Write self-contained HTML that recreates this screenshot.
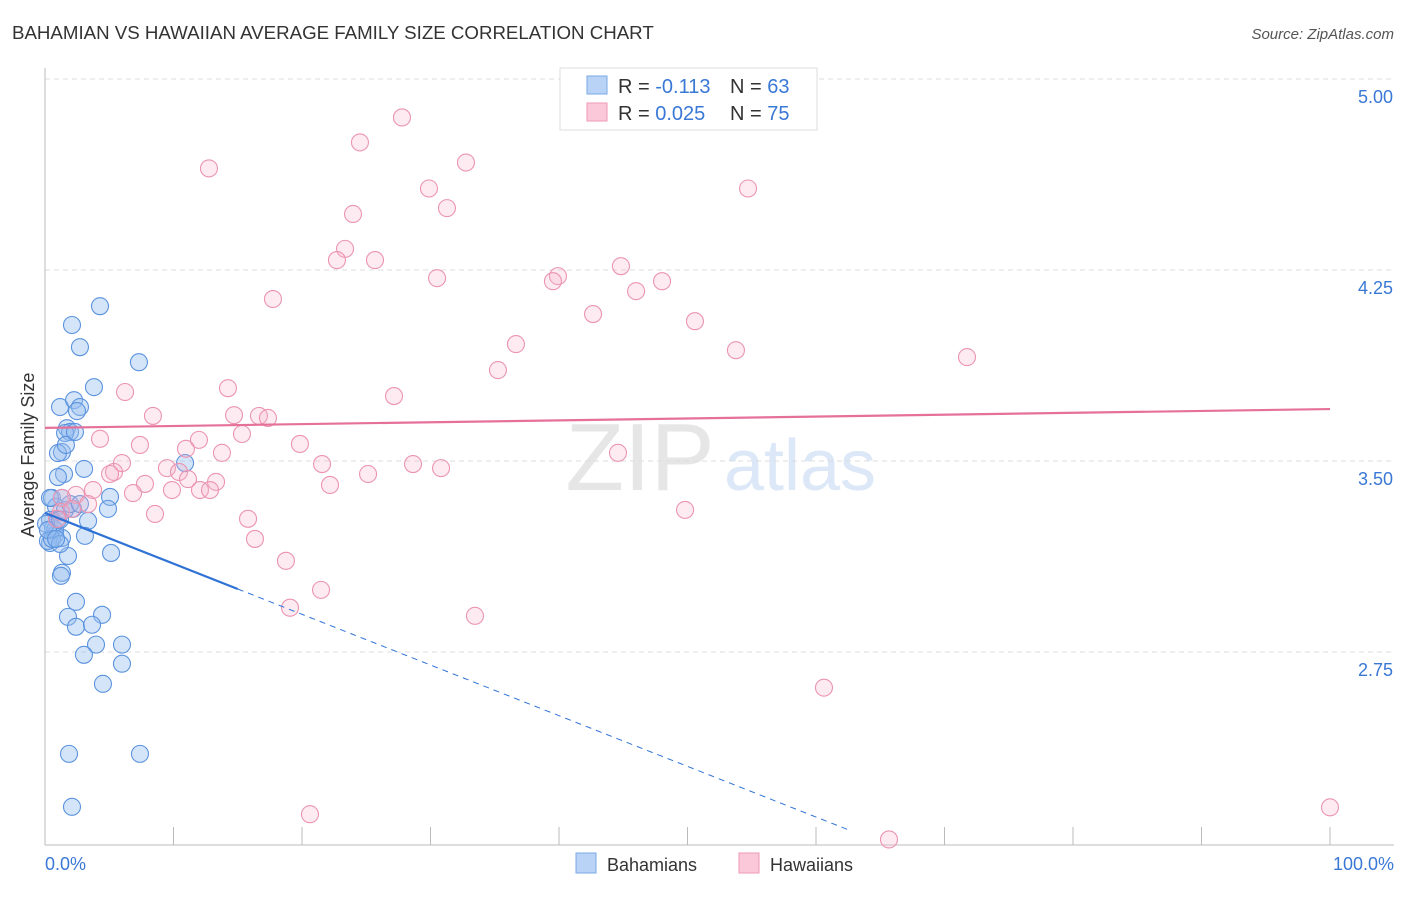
<!DOCTYPE html>
<html><head><meta charset="utf-8"><style>
body{margin:0;background:#fff;font-family:"Liberation Sans",sans-serif}
svg text{font-family:"Liberation Sans",sans-serif}
</style></head><body>
<svg id="c" width="1406" height="892" xmlns="http://www.w3.org/2000/svg">
<text x="12" y="39" font-size="18.7" fill="#333">BAHAMIAN VS HAWAIIAN AVERAGE FAMILY SIZE CORRELATION CHART</text>
<text x="1394" y="39" font-size="15" fill="#555" font-style="italic" text-anchor="end">Source: ZipAtlas.com</text>
<text x="640" y="490" font-size="96" fill="#e6e6e6" font-family="Liberation Serif" text-anchor="middle">ZIP</text>
<text x="800" y="490" font-size="72" fill="#dce8f7" text-anchor="middle">atlas</text>
<g id="grid"></g><g id="axes"></g><g id="marks"></g>
<text x="34" y="455" font-size="18" fill="#333" text-anchor="middle" transform="rotate(-90 34 455)">Average Family Size</text>
<text x="45" y="870" font-size="18" fill="#3a78d6">0.0%</text>
<text x="1394" y="870" font-size="18" fill="#3a78d6" text-anchor="end">100.0%</text>
<g>
<rect x="560" y="68" width="257" height="62" fill="#fff" stroke="#ddd"/>
<rect x="587" y="76" width="20" height="18" fill="#b8d3f5" stroke="#7aa8e6"/>
<rect x="587" y="103" width="20" height="18" fill="#fac8d8" stroke="#ee9ab6"/>
<text x="618" y="93" font-size="20" fill="#333">R = <tspan fill="#3a78d6">-0.113</tspan></text>
<text x="730" y="93" font-size="20" fill="#333">N = <tspan fill="#3a78d6">63</tspan></text>
<text x="618" y="120" font-size="20" fill="#333">R = <tspan fill="#3a78d6">0.025</tspan></text>
<text x="730" y="120" font-size="20" fill="#333">N = <tspan fill="#3a78d6">75</tspan></text>
</g>
<g>
<rect x="576" y="853" width="20" height="20" fill="#b8d3f5" stroke="#7aa8e6"/>
<text x="607" y="871" font-size="18" fill="#333">Bahamians</text>
<rect x="739" y="853" width="20" height="20" fill="#fac8d8" stroke="#ee9ab6"/>
<text x="770" y="871" font-size="18" fill="#333">Hawaiians</text>
</g>
</svg>
<script>
const yTicks=[5.00,4.25,3.50,2.75];
const xTicks=[0,10,20,30,40,50,60,70,80,90,100];
const bahX=[4.28,2.1,2.72,7.31,3.81,1.17,2.26,2.72,2.49,1.71,1.95,1.56,1.32,1.01,1.63,3.04,1.48,1.01,5.06,0.54,4.9,2.18,0.86,3.35,0.39,0.62,0.78,3.11,1.32,0.39,0.23,1.79,5.14,1.32,1.24,2.41,1.79,4.44,2.41,3.66,3.97,5.99,3.03,5.99,4.51,1.87,7.39,2.1,10.9,0.78,1.01,0.54,1.17,0.08,1.56,1.95,2.72,0.39,0.23,1.17,0.86,1.32,2.33];
const bahY=[4.108,4.034,3.947,3.888,3.79,3.712,3.739,3.712,3.696,3.629,3.614,3.61,3.535,3.531,3.563,3.469,3.449,3.437,3.359,3.355,3.312,3.312,3.32,3.265,3.269,3.237,3.21,3.206,3.198,3.178,3.186,3.127,3.139,3.061,3.049,2.947,2.888,2.896,2.849,2.857,2.779,2.779,2.739,2.704,2.625,2.35,2.35,2.142,3.492,3.229,3.269,3.194,3.174,3.253,3.308,3.331,3.331,3.355,3.229,3.269,3.194,3.355,3.614];
const hawX=[27.78,24.51,12.76,32.76,29.88,54.71,23.97,31.28,23.35,22.72,25.68,30.51,44.82,39.92,39.53,48.02,46.0,17.74,42.65,50.58,36.65,53.77,71.75,35.25,27.16,6.23,14.24,8.4,14.71,16.65,17.35,15.33,4.28,7.39,11.98,10.97,19.84,5.37,5.99,9.49,10.43,11.13,13.77,21.56,28.64,30.82,25.14,44.59,7.78,9.88,12.06,13.31,22.18,3.74,6.85,2.41,1.32,3.35,1.24,8.56,0.93,15.8,49.81,16.34,18.75,21.48,19.07,33.46,60.62,20.62,65.68,100,2.1,5.06,12.84];
const hawY=[4.849,4.751,4.649,4.672,4.57,4.57,4.47,4.493,4.333,4.289,4.289,4.218,4.265,4.226,4.206,4.206,4.167,4.136,4.077,4.049,3.959,3.935,3.908,3.857,3.755,3.771,3.786,3.677,3.68,3.677,3.669,3.606,3.587,3.563,3.583,3.548,3.567,3.457,3.492,3.472,3.457,3.429,3.532,3.488,3.488,3.472,3.449,3.532,3.41,3.386,3.386,3.418,3.406,3.386,3.374,3.367,3.355,3.331,3.3,3.292,3.273,3.273,3.308,3.194,3.108,2.994,2.924,2.892,2.61,2.113,2.014,2.14,3.312,3.449,3.386];
const bahLine=[3.296,-0.0199];
const hawLine=[3.630,0.00074];
const NS="http://www.w3.org/2000/svg";
const X=p=>45+p*12.85, Y=v=>79+(5-v)*254.67;
function mk(tag,at,parent){const e=document.createElementNS(NS,tag);for(const k in at)e.setAttribute(k,at[k]);document.getElementById(parent).appendChild(e);return e;}
yTicks.forEach((t,i)=>{
 const g=mk('line',{x1:45,x2:1394,y1:Y(t),y2:Y(t),stroke:'#ddd','stroke-dasharray':'5,4'},'grid');
 
 
 const l=mk('text',{x:1393,y:Y(t)+24,'font-size':18,fill:'#3a78d6','text-anchor':'end'},'axes');
 l.textContent=t.toFixed(2);
 
 
});
const ax=mk('line',{x1:45,x2:45,y1:68,y2:845,stroke:'#bbb'},'axes');


const bx=mk('line',{x1:45,x2:1394,y1:845,y2:845,stroke:'#bbb'},'axes');


xTicks.forEach(t=>{
 const k=mk('line',{x1:X(t),x2:X(t),y1:827,y2:845,stroke:'#bbb'},'axes');
 
 
});
bahX.forEach((x,i)=>{
 const c=mk('circle',{cx:X(x),cy:Y(bahY[i]),r:8.5,fill:'rgba(150,190,240,0.4)',stroke:'#5b93de','stroke-width':1.1},'marks');
 
 
});
hawX.forEach((x,i)=>{
 const c=mk('circle',{cx:X(x),cy:Y(hawY[i]),r:8.5,fill:'rgba(246,175,200,0.25)',stroke:'#eb94b2','stroke-width':1.1},'marks');
 
 
});
const f=(L,p)=>L[0]+L[1]*p;
const t1=mk('line',{x1:X(0),y1:Y(f(bahLine,0)),x2:X(15),y2:Y(f(bahLine,15)),stroke:'#2f72d6','stroke-width':2.2},'marks');


const t2=mk('line',{x1:X(15),y1:Y(f(bahLine,15)),x2:X(62.5),y2:Y(f(bahLine,62.5)),stroke:'#2f72d6','stroke-width':1,'stroke-dasharray':'6,5'},'marks');


const t3=mk('line',{x1:X(0),y1:Y(f(hawLine,0)),x2:X(100),y2:Y(f(hawLine,100)),stroke:'#e5709a','stroke-width':2.2},'marks');


</script>
</body></html>
